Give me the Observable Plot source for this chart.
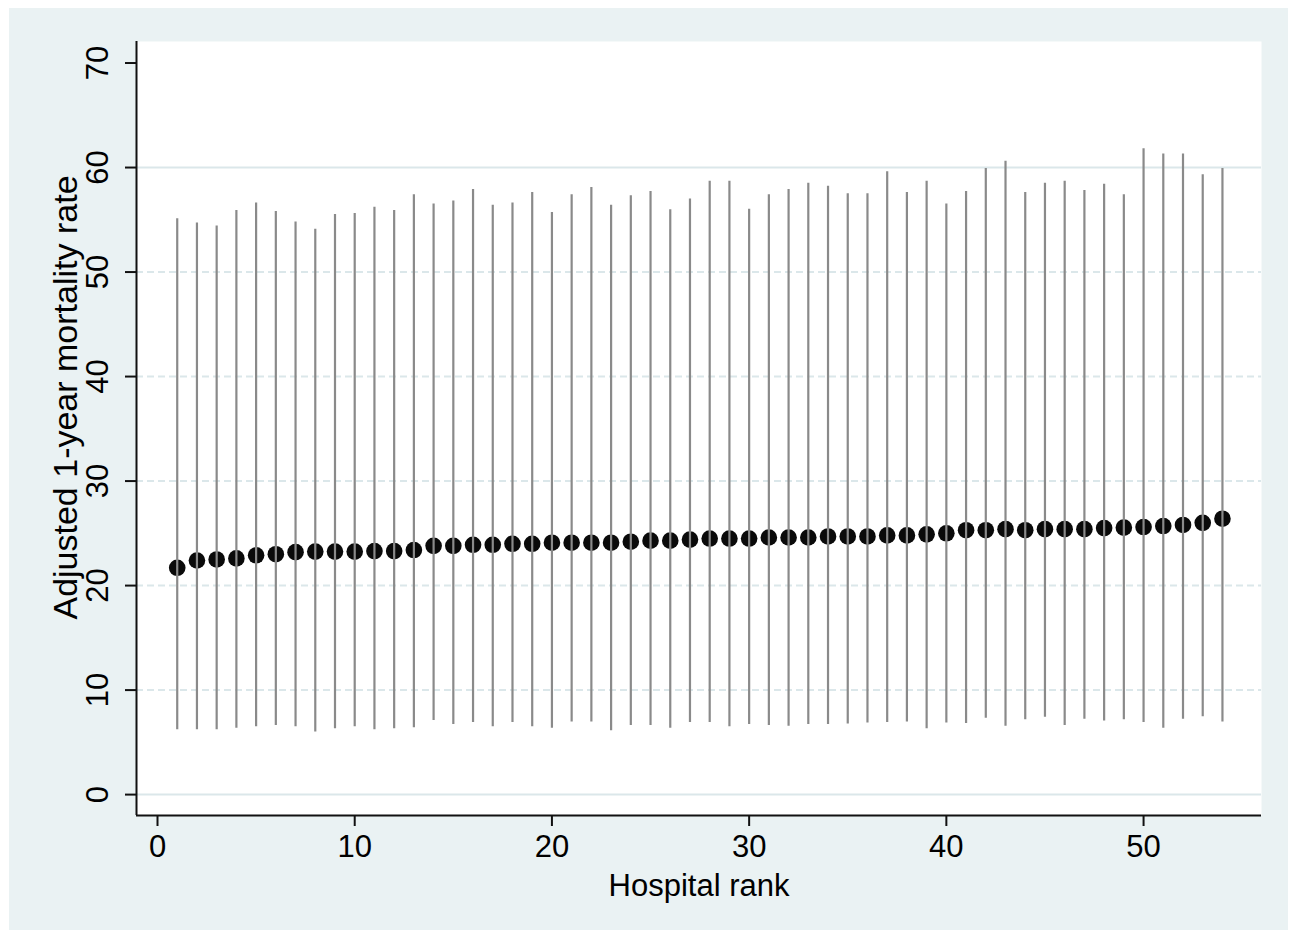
<!DOCTYPE html>
<html><head><meta charset="utf-8">
<script src="https://cdn.jsdelivr.net/npm/d3@7"></script>
<script src="https://cdn.jsdelivr.net/npm/@observablehq/plot@0.6"></script>
<style>
html,body{margin:0;padding:0;background:#fff;}
#wrap{position:absolute;left:9px;top:8px;width:1279px;height:922px;background:#eaf2f3;}
</style></head><body><div id="wrap"></div>
<script>
const rank = d3.range(1, 55);
const estimate = [21.7,22.4,22.5,22.6,22.9,23.0,23.2,23.25,23.25,23.25,23.3,23.3,23.4,23.8,23.8,23.9,23.9,24.0,24.0,24.1,24.1,24.1,24.1,24.2,24.3,24.3,24.4,24.5,24.5,24.5,24.6,24.6,24.6,24.7,24.7,24.7,24.8,24.8,24.9,25.0,25.3,25.3,25.4,25.3,25.4,25.4,25.4,25.5,25.55,25.6,25.7,25.8,26.0,26.4];
const upper = [55.1,54.7,54.4,55.9,56.6,55.8,54.8,54.1,55.5,55.6,56.2,55.9,57.4,56.5,56.8,57.9,56.4,56.6,57.6,55.7,57.4,58.1,56.4,57.3,57.7,55.95,57.0,58.7,58.7,56.0,57.4,57.9,58.5,58.2,57.5,57.5,59.6,57.6,58.7,56.5,57.7,59.9,60.6,57.6,58.5,58.7,57.8,58.4,57.4,61.8,61.3,61.3,59.3,59.9];
const lower = [6.2,6.2,6.2,6.35,6.5,6.6,6.5,6.0,6.3,6.5,6.2,6.3,6.4,7.1,6.7,6.9,6.5,6.9,6.5,6.35,6.95,6.95,6.1,6.6,6.6,6.35,6.9,6.9,6.5,6.7,6.6,6.55,6.7,6.7,6.75,6.85,6.9,6.95,6.3,6.85,6.8,7.3,6.55,7.15,7.4,6.6,7.2,7.05,7.15,6.9,6.35,7.2,7.45,6.95];
const xTicks = [0, 10, 20, 30, 40, 50];
const yTicks = [0, 10, 20, 30, 40, 50, 60, 70];
const gridSolid = [0, 60];
const gridDashed = [10, 20, 30, 40, 50];
const xDomain = [-1.065, 55.98];
const yDomain = [-2, 72.06];
const xTitle = "Hospital rank";
const yTitle = "Adjusted 1-year mortality rate";

const data = rank.map((r, i) => ({rank: r, est: estimate[i], lo: lower[i], hi: upper[i]}));
const font = "'Liberation Sans', Arial, Helvetica, sans-serif";

const chart = Plot.plot({
  width: 1279, height: 922,
  marginLeft: 127, marginTop: 33, marginRight: 27, marginBottom: 115,
  style: {background: "transparent", fontFamily: font, fontSize: "31px", color: "#000"},
  x: {domain: xDomain},
  y: {domain: yDomain},
  marks: [
    Plot.frame({fill: "white", stroke: null}),
    Plot.ruleY(gridSolid, {stroke: "#dbe7ea", strokeWidth: 2}),
    Plot.ruleY(gridDashed, {stroke: "#dbe7ea", strokeWidth: 2, strokeDasharray: "7,4"}),
    Plot.dot(data, {x: "rank", y: "est", r: 8.3, fill: "#0a0a0a", stroke: null}),
    Plot.ruleX(data, {x: "rank", y1: "lo", y2: "hi", stroke: "#8a8a8a", strokeWidth: 2.2}),
    Plot.ruleX([xDomain[0]], {stroke: "#111", strokeWidth: 2}),
    Plot.ruleY([yDomain[0]], {stroke: "#111", strokeWidth: 2}),
    Plot.axisX({ticks: xTicks, tickSize: 11, tickPadding: 8, label: null, fontSize: 31, strokeWidth: 2, stroke: "#111"}),
    Plot.axisY({ticks: yTicks, tickSize: 11, tickFormat: () => "", label: null, strokeWidth: 2, stroke: "#111"}),
    Plot.text(yTicks, {y: d => d, text: d => String(d), frameAnchor: "left", dx: -38, rotate: -90, textAnchor: "middle", fontSize: 31, fill: "#000"}),
    Plot.text([xTitle], {text: d => d, frameAnchor: "bottom", dy: 80, fontSize: 31, fill: "#000"}),
    Plot.text([yTitle], {text: d => d, frameAnchor: "left", dx: -70, dy: -31, rotate: -90, textAnchor: "middle", fontSize: 34, fill: "#000"})
  ]
});
document.getElementById("wrap").appendChild(chart);
</script>
</body></html>
